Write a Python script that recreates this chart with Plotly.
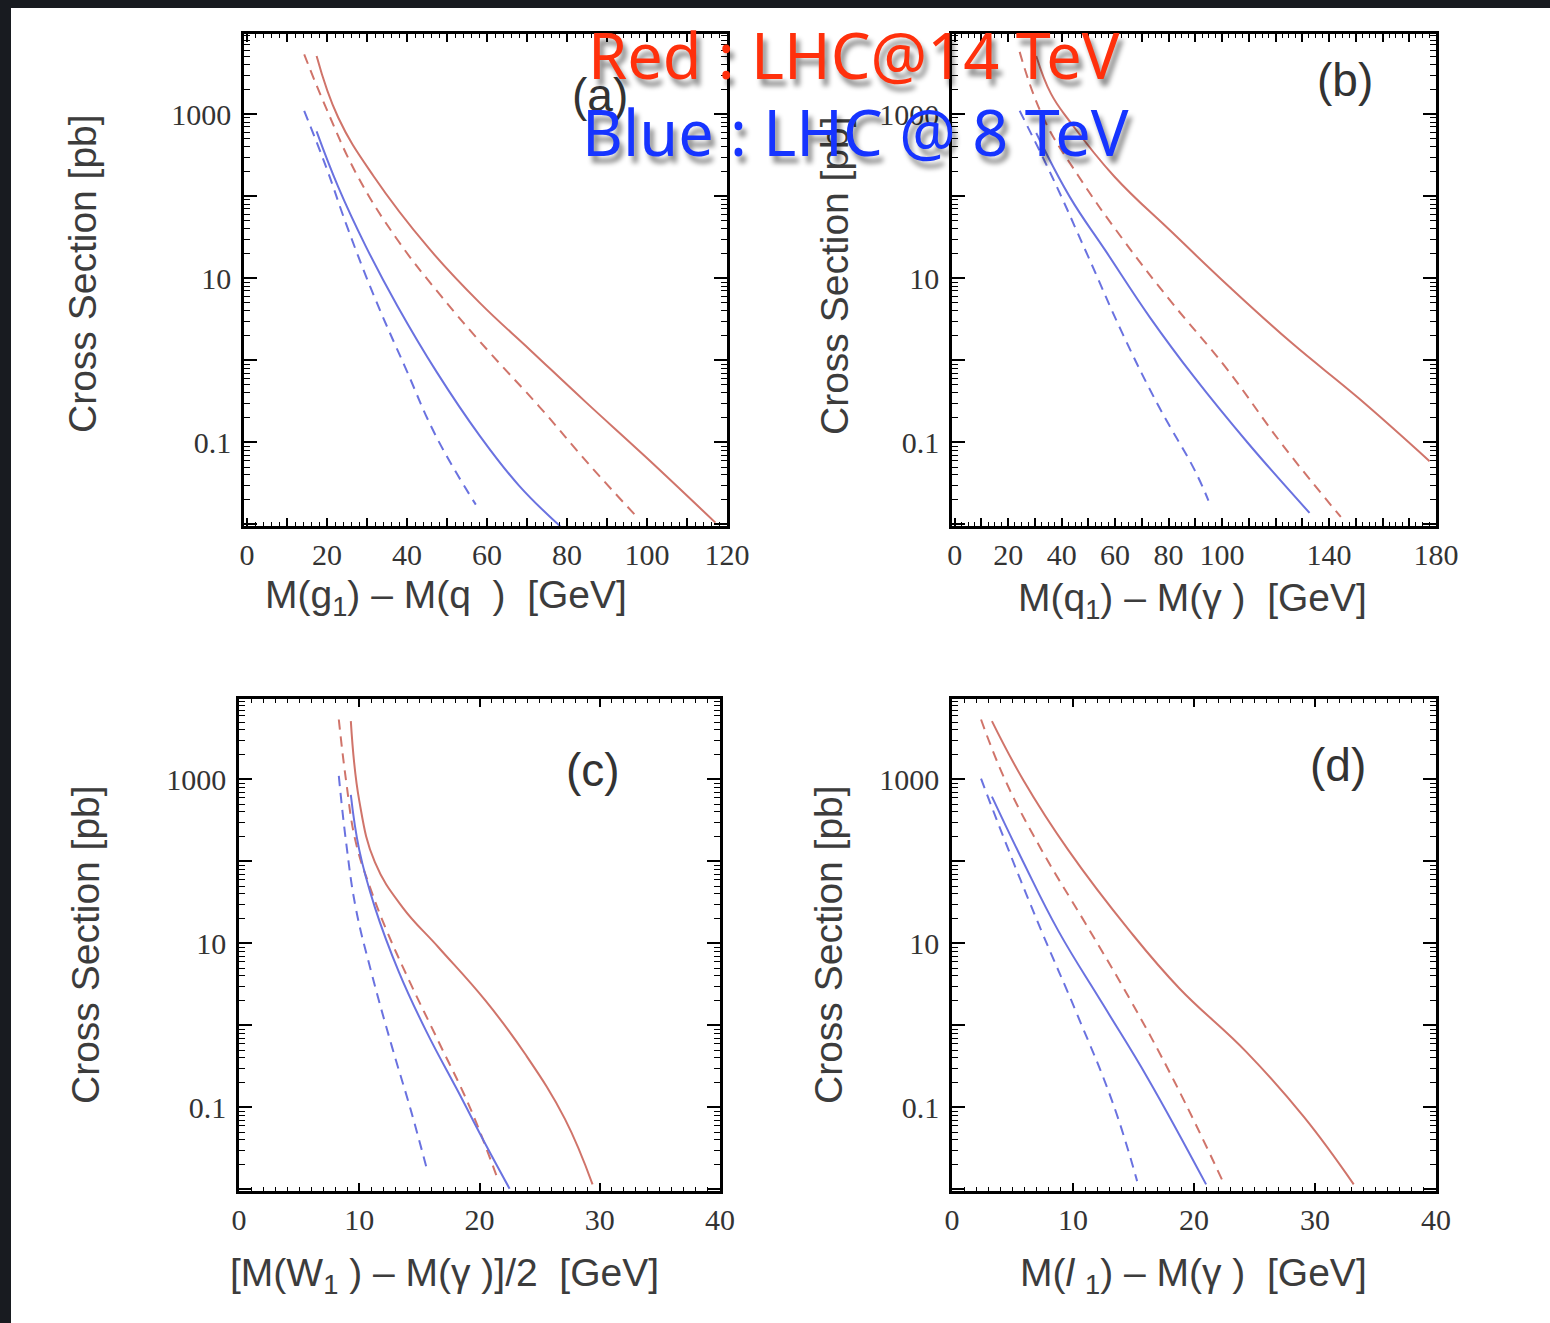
import plotly.graph_objects as go

# ---------------- data (cross sections in pb) ----------------
# Panel (a): M(g1) - M(q) [GeV]
a_red_solid_x = [17.4, 22.8, 31.7, 45.4, 58.2, 70.9, 84.7, 99.5, 117.1]
a_red_solid_y = [5130, 912, 174, 23.4, 5.01, 1.32, 0.309, 0.0676, 0.0105]
a_red_dash_x = [14.3, 19.9, 27.7, 37.6, 48.4, 60.2, 73.0, 85.7, 97.5]
a_red_dash_y = [5370, 1150, 174, 29.5, 6.17, 1.32, 0.275, 0.0525, 0.0123]
a_blue_solid_x = [17.4, 22.8, 29.7, 37.6, 47.4, 58.2, 68.0, 78.3]
a_blue_solid_y = [617, 130, 24.5, 4.6, 0.723, 0.120, 0.0297, 0.0095]
a_blue_dash_x = [14.3, 19.9, 24.8, 31.7, 39.5, 47.4, 57.2]
a_blue_dash_y = [1100, 219, 45.7, 6.17, 0.832, 0.115, 0.0174]

# Panel (b): M(q1) - M(gamma) [GeV]
b_red_solid_x = [30.5, 36.0, 43.1, 59.7, 81.3, 102.9, 126.1, 151.0, 177.6]
b_red_solid_y = [5130, 1780, 813, 174, 36.3, 7.76, 1.62, 0.347, 0.0589]
b_red_dash_x = [24.3, 33.1, 46.4, 63.0, 81.3, 101.2, 122.8, 144.4]
b_red_dash_y = [5750, 912, 174, 29.5, 5.01, 0.832, 0.0912, 0.0123]
b_blue_solid_x = [30.5, 43.1, 56.4, 73.0, 89.6, 109.5, 132.7]
b_blue_solid_y = [589, 97.5, 21.7, 3.34, 0.622, 0.0995, 0.0138]
b_blue_dash_x = [24.3, 36.4, 49.7, 63.0, 76.3, 89.6, 94.9]
b_blue_dash_y = [1100, 174, 19.1, 2.04, 0.275, 0.0468, 0.0195]

# Panel (c): [M(W1) - M(gamma)]/2 [GeV]
c_red_solid_x = [9.3, 10.0, 11.3, 13.6, 16.6, 20.5, 23.8, 27.1, 29.4]
c_red_solid_y = [5130, 550, 97.7, 27.5, 8.91, 2.0, 0.447, 0.0724, 0.0115]
c_red_dash_x = [8.3, 8.9, 9.7, 11.0, 12.3, 14.3, 16.6, 19.2, 21.5]
c_red_dash_y = [5370, 977, 174, 43.7, 14.1, 3.16, 0.631, 0.1, 0.0135]
c_blue_solid_x = [9.3, 10.0, 11.3, 13.3, 15.6, 18.2, 20.5, 22.5]
c_blue_solid_y = [646, 138, 27.5, 4.47, 0.832, 0.158, 0.0355, 0.0102]
c_blue_dash_x = [8.3, 8.9, 9.7, 11.0, 12.7, 14.3, 15.6]
c_blue_dash_y = [1100, 174, 27.5, 4.47, 0.562, 0.0912, 0.0182]

# Panel (d): M(l1) - M(gamma) [GeV]
d_red_solid_x = [3.3, 5.9, 9.6, 14.7, 18.8, 24.3, 29.1, 33.2]
d_red_solid_y = [5130, 977, 138, 14.1, 2.82, 0.479, 0.0759, 0.0115]
d_red_dash_x = [2.4, 4.4, 7.4, 11.0, 14.7, 18.4, 22.5]
d_red_dash_y = [5370, 977, 138, 17.8, 2.09, 0.204, 0.0115]
d_blue_solid_x = [3.3, 5.9, 8.8, 12.5, 16.2, 21.0]
d_blue_solid_y = [617, 97.7, 14.1, 1.78, 0.224, 0.0115]
d_blue_dash_x = [2.4, 4.4, 7.4, 10.3, 13.3, 15.3]
d_blue_dash_y = [1020, 174, 14.1, 1.41, 0.112, 0.0126]

y_major = [0.01, 0.1, 1, 10, 100, 1000, 10000]
y_labels = ["", "0.1", "", "10", "", "1000", ""]

x_titles = [
    "M(g<sub>1</sub>) \u2013 M(q\u00a0\u00a0)\u00a0\u00a0[GeV]",
    "M(q<sub>1</sub>) \u2013 M(\u03b3\u00a0)\u00a0\u00a0[GeV]",
    "[M(W<sub>1</sub>\u00a0) \u2013 M(\u03b3\u00a0)]/2\u00a0\u00a0[GeV]",
    "M(<i>l</i>\u00a0<sub>1</sub>) \u2013 M(\u03b3\u00a0)\u00a0\u00a0[GeV]",
]
panel_tags = ["(a)", "(b)", "(c)", "(d)"]
y_title = "Cross Section [pb]"

# ---------------- layout geometry ----------------
W, H = 1550, 1323
RED = "rgb(208,116,106)"
BLUE = "rgb(106,114,224)"

panels = [
    dict(x0=244, x1=727, y0=33.8, y1=526, xr=[-0.75, 120], xmaj=list(range(0, 121, 10)),
         xlab=[0, 20, 40, 60, 80, 100, 120], xminor=2,
         curves=[(a_red_solid_x, a_red_solid_y, RED, "solid"), (a_red_dash_x, a_red_dash_y, RED, "dash"),
                 (a_blue_solid_x, a_blue_solid_y, BLUE, "solid"), (a_blue_dash_x, a_blue_dash_y, BLUE, "dash")],
         ytitle=(82, 274), xtitle=(446, 597), tag=(600, 95)),
    dict(x0=952, x1=1436, y0=33.8, y1=526, xr=[-1, 180], xmaj=list(range(0, 181, 10)),
         xlab=[0, 20, 40, 60, 80, 100, 140, 180], xminor=2.5,
         curves=[(b_red_solid_x, b_red_solid_y, RED, "solid"), (b_red_dash_x, b_red_dash_y, RED, "dash"),
                 (b_blue_solid_x, b_blue_solid_y, BLUE, "solid"), (b_blue_dash_x, b_blue_dash_y, BLUE, "dash")],
         ytitle=(835, 276), xtitle=(1192, 600), tag=(1345, 80)),
    dict(x0=239, x1=720, y0=699, y1=1191, xr=[0, 40], xmaj=list(range(0, 41, 10)),
         xlab=[0, 10, 20, 30, 40], xminor=1,
         curves=[(c_red_solid_x, c_red_solid_y, RED, "solid"), (c_red_dash_x, c_red_dash_y, RED, "dash"),
                 (c_blue_solid_x, c_blue_solid_y, BLUE, "solid"), (c_blue_dash_x, c_blue_dash_y, BLUE, "dash")],
         ytitle=(85, 945), xtitle=(444, 1275), tag=(593, 770)),
    dict(x0=952, x1=1436, y0=699, y1=1191, xr=[0, 40], xmaj=list(range(0, 41, 10)),
         xlab=[0, 10, 20, 30, 40], xminor=1,
         curves=[(d_red_solid_x, d_red_solid_y, RED, "solid"), (d_red_dash_x, d_red_dash_y, RED, "dash"),
                 (d_blue_solid_x, d_blue_solid_y, BLUE, "solid"), (d_blue_dash_x, d_blue_dash_y, BLUE, "dash")],
         ytitle=(828, 945), xtitle=(1193, 1275), tag=(1338, 765)),
]

y_minor = [m * 10 ** e for e in range(-3, 4) for m in range(2, 10)]

fig = go.Figure()
annotations = []
tick_font = dict(family="Liberation Serif", size=30, color="#333333")
label_font = dict(family="Liberation Sans, Arial", size=39, color="#3c3c3c")

for i, p in enumerate(panels):
    n = "" if i == 0 else str(i + 1)
    xa, ya = "x" + n, "y" + n
    for xs, ys, col, dash in p["curves"]:
        fig.add_trace(go.Scatter(
            x=xs, y=ys, xaxis=xa, yaxis=ya, mode="lines",
            line=dict(color=col, width=2, dash="10px,7px" if dash == "dash" else "solid",
                      shape="spline", smoothing=1.2),
            showlegend=False, hoverinfo="skip"))
    xdom = [p["x0"] / W, p["x1"] / W]
    ydom = [1 - p["y1"] / H, 1 - p["y0"] / H]
    fig.layout["xaxis" + n] = dict(
        domain=xdom, anchor=ya, range=p["xr"], tickmode="array", automargin=False,
        tickvals=p["xmaj"], ticktext=[str(v) if v in p["xlab"] else "" for v in p["xmaj"]],
        ticks="inside", ticklen=8, tickwidth=1.5, tickcolor="black",
        minor=dict(dtick=p["xminor"], tick0=0, ticks="inside", ticklen=4, tickwidth=1.3, tickcolor="black"),
        showline=True, linecolor="black", linewidth=2.5, mirror="allticks",
        showgrid=False, zeroline=False, tickfont=tick_font, fixedrange=True)
    fig.layout["yaxis" + n] = dict(
        domain=ydom, anchor=xa, type="log", range=[-2.02, 3.98], tickmode="array", automargin=False,
        tickvals=y_major, ticktext=y_labels, ticklabelstandoff=4,
        ticks="inside", ticklen=13, tickwidth=1.5, tickcolor="black",
        minor=dict(tickvals=y_minor, ticks="inside", ticklen=6, tickwidth=1.3, tickcolor="black"),
        showline=True, linecolor="black", linewidth=2.5, mirror="allticks",
        showgrid=False, zeroline=False, tickfont=tick_font, fixedrange=True)
    tx, ty = p["ytitle"]
    annotations.append(dict(text=y_title, x=tx / W, y=1 - ty / H, xref="paper", yref="paper",
                            textangle=-90, showarrow=False, font=label_font,
                            xanchor="center", yanchor="middle"))
    tx, ty = p["xtitle"]
    annotations.append(dict(text=x_titles[i], x=tx / W, y=1 - ty / H, xref="paper", yref="paper",
                            showarrow=False, font=label_font, xanchor="center", yanchor="middle"))
    tx, ty = p["tag"]
    annotations.append(dict(text=panel_tags[i], x=tx / W, y=1 - ty / H, xref="paper", yref="paper",
                            showarrow=False, font=dict(family="Liberation Sans, Arial", size=46, color="#333333"),
                            xanchor="center", yanchor="middle"))

# hand-written overlay notes
shadow = "4px 7px 5px rgba(0,0,0,0.45)"
annotations.append(dict(text="Red : LHC@14 TeV", x=854 / W, y=1 - 54 / H, xref="paper", yref="paper",
                        showarrow=False, xanchor="center", yanchor="middle",
                        font=dict(family="Noto Sans", size=63, color="rgb(255,48,12)", shadow=shadow)))
annotations.append(dict(text="Blue : LHC @ 8 TeV", x=855 / W, y=1 - 132 / H, xref="paper", yref="paper",
                        showarrow=False, xanchor="center", yanchor="middle",
                        font=dict(family="Noto Sans", size=63, color="rgb(22,52,255)", shadow=shadow)))

fig.update_layout(
    template="none",
    width=W, height=H, margin=dict(l=0, r=0, t=0, b=0, autoexpand=False),
    paper_bgcolor="rgb(24,27,32)", plot_bgcolor="white",
    annotations=annotations,
    shapes=[dict(type="rect", xref="paper", yref="paper", x0=11 / W, x1=1, y0=0, y1=1 - 8 / H,
                 fillcolor="white", line=dict(width=0), layer="below")],
)

fig.write_html("out.html", config={"displayModeBar": False})
